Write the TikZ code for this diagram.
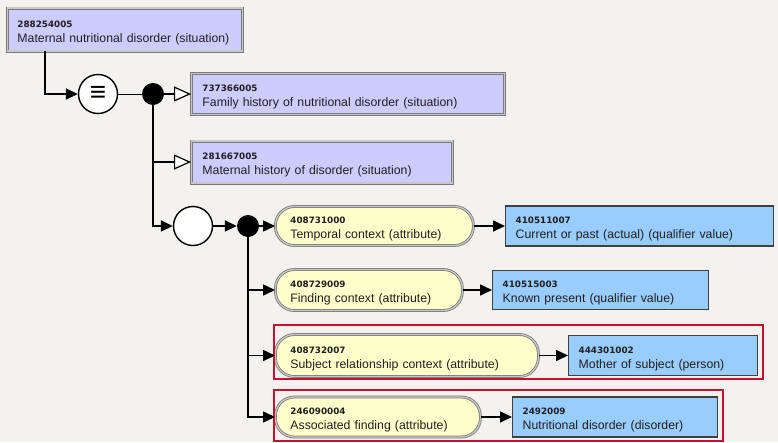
\documentclass[tikz,border=0pt]{standalone}
\usepackage{fontspec}
\setmainfont{Liberation Sans}
\newfontfamily\dejavu{DejaVu Sans}
\usetikzlibrary{arrows.meta}
\definecolor{bgc}{HTML}{F4F2EE}
\definecolor{lavc}{HTML}{CCCCFF}
\definecolor{yelc}{HTML}{FFFFCC}
\definecolor{bluc}{HTML}{99CCFF}
\definecolor{redc}{HTML}{C8102E}
\definecolor{brdc}{HTML}{7A7A7A}
\definecolor{brdl}{HTML}{C8C8C8}
\definecolor{txtc}{HTML}{202020}
\newcommand\numtxt[1]{{\dejavu\bfseries\fontsize{8.8}{11}\selectfont\rule{0pt}{13pt}#1}}
\newcommand\bx[2]{\numtxt{#1}\\#2}
\tikzset{
  base/.style={anchor=west, align=left, inner ysep=0pt, text=txtc, font=\fontsize{12.3}{15}\selectfont},
  lavbox/.style={base, fill=lavc, draw=brdc, double=brdl, double distance=1.2pt, line width=0.9pt, inner xsep=11pt},
  yelbox/.style={base, fill=yelc, draw=brdc, double=brdl, double distance=1.2pt, line width=0.8pt, rounded corners=19pt, inner xsep=15pt},
  blubox/.style={base, fill=bluc, draw=black!75, line width=1.4pt, inner xsep=10pt},
  eqc/.style={circle, draw=black, fill=white, line width=1.4pt, minimum size=39pt, inner sep=0pt},
  dotc/.style={circle, fill=black, minimum size=22pt, inner sep=0pt},
  conn/.style={draw=black, line width=1.6pt},
  farr/.style={conn, -{Triangle[length=12pt,width=11pt]}},
  oarr/.style={conn, -{Triangle[open,length=17pt,width=15pt,fill=white,line width=1.2pt]}},
  redframe/.style={draw=redc, line width=2pt}
}
\begin{document}
\begin{tikzpicture}[x=1pt,y=-1pt]
\fill[bgc] (0,0) rectangle (778,442);
\useasboundingbox (0,0) rectangle (778,442);

\node[lavbox, inner xsep=10pt, text width=215pt, minimum height=43pt] (a) at (7,29.5) {\bx{288254005}{Maternal nutritional disorder (situation)}};
\node[eqc] (eq) at (98,94) {\fontsize{28}{28}\selectfont ≡};
\node[dotc] (d1) at (153,94) {};
\node[lavbox, text width=291pt, minimum height=41pt] (f) at (191,94) {\bx{737366005}{Family history of nutritional disorder (situation)}};
\node[lavbox, text width=239pt, minimum height=42pt] (m) at (191,162) {\bx{281667005}{Maternal history of disorder (situation)}};
\node[eqc] (oc) at (193,226) {};
\node[dotc] (d2) at (248,226) {};

\node[yelbox, text width=168pt, minimum height=39pt] (r1) at (275,226) {\bx{408731000}{Temporal context (attribute)}};
\node[blubox, text width=248pt, minimum height=40pt] (b1) at (505,226) {\bx{410511007}{Current or past (actual) (qualifier value)}};
\node[yelbox, text width=157pt, minimum height=41pt] (r2) at (275,290) {\bx{408729009}{Finding context (attribute)}};
\node[blubox, text width=196pt, minimum height=39pt] (b2) at (492,290) {\bx{410515003}{Known present (qualifier value)}};
\node[yelbox, text width=233pt, minimum height=42pt] (r3) at (275,355.5) {\bx{408732007}{Subject relationship context (attribute)}};
\node[blubox, text width=169pt, minimum height=40pt] (b3) at (568,355.5) {\bx{444301002}{Mother of subject (person)}};
\node[yelbox, text width=175pt, minimum height=40pt] (r4) at (275,417) {\bx{246090004}{Associated finding (attribute)}};
\node[blubox, text width=185pt, minimum height=40pt] (b4) at (512,417) {\bx{2492009}{Nutritional disorder (disorder)}};

\draw[redframe] (274,325) rectangle (763,379);
\draw[redframe] (274,390) rectangle (723,441);

\draw[farr] ([xshift=38pt]a.south west) |- (eq.west);
\draw[conn, line width=1pt] (eq) -- (d1);
\draw[oarr] (d1) -- (f.west);
\draw[farr] (d1.center) |- (oc.west);
\draw[oarr] (d1.center |- m.west) -- (m.west);
\draw[farr] (oc) -- (d2);
\draw[farr] (d2) -- (r1.west);
\draw[farr] (d2.center) |- (r4.west);
\draw[farr] (d2.center |- r2.west) -- (r2.west);
\draw[farr] (d2.center |- r3.west) -- (r3.west);
\draw[farr] (r1.east) -- (b1.west);
\draw[farr] (r2.east) -- (b2.west);
\draw[farr] (r3.east) -- (b3.west);
\draw[farr] (r4.east) -- (b4.west);
\end{tikzpicture}
\end{document}
